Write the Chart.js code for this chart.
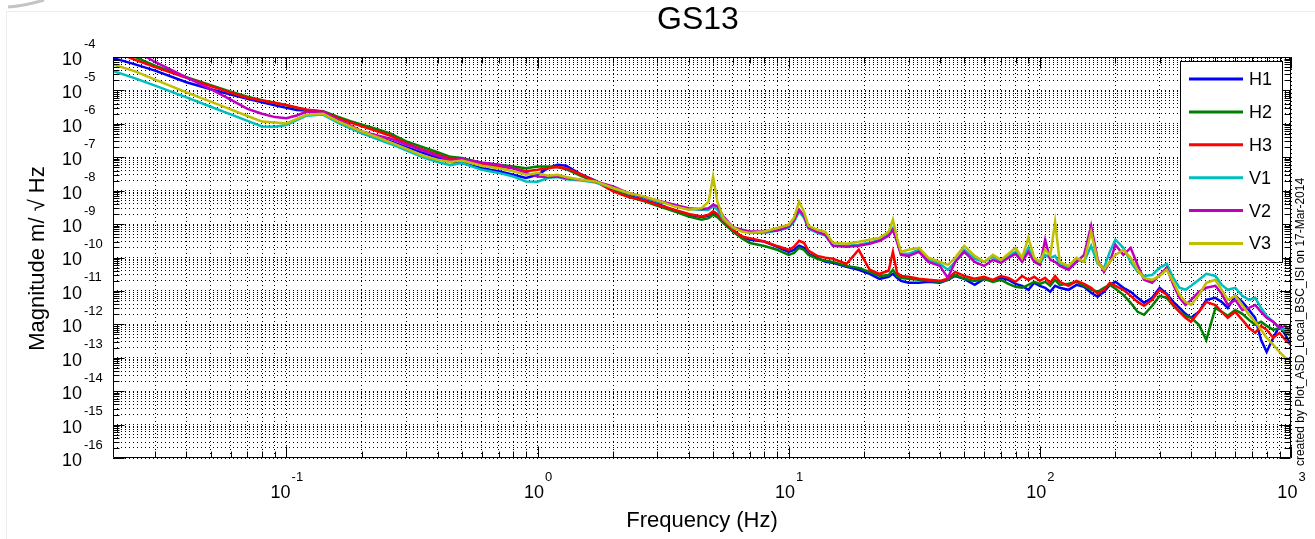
<!DOCTYPE html>
<html>
<head>
<meta charset="utf-8">
<script src="https://cdn.jsdelivr.net/npm/chart.js@4.4.1/dist/chart.umd.min.js"></script>
<style>
html,body{margin:0;padding:0;background:#fff;}
#wrap{width:1315px;height:539px;position:relative;}
</style>
</head>
<body>
<div id="wrap"><canvas id="c" width="1315" height="539"></canvas></div>
<script>
// ---------- text ----------
const chartTitle = 'GS13';
const xAxisTitle = 'Frequency (Hz)';
const yAxisTitle = 'Magnitude m/ \u221A Hz';
const footnote = 'created by Plot_ASD_Local_BSC_ISI on 17-Mar-2014';

// ---------- series ----------
const seriesNames = ['H1', 'H2', 'H3', 'V1', 'V2', 'V3'];
const seriesColors = ['#0000ff', '#008000', '#ff0000', '#00bfbf', '#bf00bf', '#bfbf00'];

// ---------- axes ----------
const xMin = 0.0204, xMax = 1000;
const yMin = 1e-16, yMax = 1e-4;
const xLabelExponents = [-1, 0, 1, 2, 3];
const yLabelExponents = [-4, -5, -6, -7, -8, -9, -10, -11, -12, -13, -14, -15, -16];
const tickMantissas = [1, 2, 3, 4, 5, 6, 7, 8, 9];
const xDecades = [-2, -1, 0, 1, 2, 3];
const yDecades = [-16, -15, -14, -13, -12, -11, -10, -9, -8, -7, -6, -5, -4];

// ---------- data (Hz, m/sqrt(Hz)) ----------
const frequency = [
  0.0204, 0.025, 0.03, 0.04, 0.05, 0.06, 0.07, 0.08, 0.09, 0.1, 0.11, 0.12, 0.14, 0.16, 0.18, 0.2, 0.23, 0.26, 0.3, 0.35, 0.4, 0.45,
  0.5, 0.6, 0.7, 0.8, 0.9, 1.0, 1.1, 1.2, 1.3, 1.5, 1.7, 2.0, 2.3, 2.6, 3.0, 3.5, 4.0, 4.5, 4.8, 5.0, 5.2, 5.5, 6.0, 6.5, 7.0, 8.0, 9.0,
  10, 10.5, 11, 11.5, 12, 13, 14, 15, 17, 19, 21, 23, 25, 26, 27, 28,
  30, 33, 36, 40, 43, 46, 50, 55, 60, 65, 70, 75, 80, 85, 90, 95, 100, 105, 110, 115, 120, 130, 140, 150, 160, 170, 180, 190, 200,
  215, 230, 245, 260, 280, 300, 320, 340, 360, 380, 400, 430, 460, 500, 530, 560, 600, 640, 680, 720, 760, 800, 850, 900, 950, 1000
];

const H1 = [
  9.3e-5, 6.0e-5, 3.9e-5, 1.75e-5, 1.08e-5, 7.5e-6, 5.6e-6, 4.4e-6, 3.6e-6, 3.0e-6, 2.6e-6, 2.5e-6, 2.3e-6, 1.36e-6, 8.4e-7, 5.2e-7, 4.0e-7, 2.95e-7, 2.0e-7, 1.35e-7, 9.7e-8, 7.2e-8,
  6.7e-8, 4.7e-8, 3.8e-8, 3.0e-8, 2.4e-8, 3.0e-8, 4.7e-8, 6.0e-8, 5.6e-8, 3.0e-8, 2.0e-8, 1.06e-8, 7.0e-9, 5.6e-9, 4.1e-9, 2.55e-9, 1.9e-9, 1.62e-9, 1.77e-9, 2.0e-9, 1.9e-9, 1.12e-9, 6.0e-10, 4.25e-10, 3.4e-10, 3.0e-10, 2.1e-10,
  1.48e-10, 1.7e-10, 2.24e-10, 1.95e-10, 1.29e-10, 9.8e-11, 7.4e-11, 6.9e-11, 5.25e-11, 4.3e-11, 3.25e-11, 2.3e-11, 2.65e-11, 3.25e-11, 2.45e-11, 2.0e-11,
  1.75e-11, 1.75e-11, 1.87e-11, 1.75e-11, 2.15e-11, 2.8e-11, 2.3e-11, 1.52e-11, 2.3e-11, 2.0e-11, 2.45e-11, 2.15e-11, 1.63e-11, 1.42e-11, 1.08e-11, 1.75e-11, 1.42e-11, 1.24e-11, 9.4e-12, 1.42e-11,
  1.24e-11, 1.08e-11, 1.52e-11, 1.33e-11, 8.8e-12, 6.65e-12, 9.4e-12, 1.52e-11, 1.87e-11, 1.24e-11, 9.4e-12, 6.2e-12, 4.4e-12, 6.2e-12, 1.24e-11, 8.2e-12, 4.7e-12, 3.1e-12, 2.06e-12, 1.57e-12,
  2.37e-12, 5.4e-12, 6.2e-12, 4.7e-12, 3.1e-12, 7.1e-12, 4.7e-12, 2.7e-12, 1.57e-12, 3.4e-13, 1.5e-13, 3.95e-13, 9.0e-13, 4.85e-13, 2.43e-13
];
const H2 = [
  1.77e-4, 9.9e-5, 5.5e-5, 2.5e-5, 1.43e-5, 9.2e-6, 6.5e-6, 5.1e-6, 4.3e-6, 3.6e-6, 3.0e-6, 2.6e-6, 2.4e-6, 1.63e-6, 1.2e-6, 9.4e-7, 6.9e-7, 5.1e-7, 3.0e-7, 2.0e-7, 1.41e-7, 1.03e-7,
  9.5e-8, 6.7e-8, 6.0e-8, 5.3e-8, 4.7e-8, 5.3e-8, 5.3e-8, 5.1e-8, 4.4e-8, 2.66e-8, 1.89e-8, 1.06e-8, 6.7e-9, 5.1e-9, 3.5e-9, 2.4e-9, 1.69e-9, 1.35e-9, 1.51e-9, 1.9e-9, 1.62e-9, 1.07e-9, 6.0e-10, 3.8e-10, 2.7e-10, 2.2e-10, 1.7e-10,
  1.2e-10, 1.38e-10, 1.95e-10, 1.7e-10, 1.2e-10, 9.15e-11, 7.95e-11, 7.4e-11, 5.6e-11, 4.9e-11, 3.7e-11, 2.8e-11, 3.0e-11, 4.3e-11, 2.8e-11, 2.45e-11,
  2.3e-11, 2.15e-11, 2.0e-11, 1.87e-11, 2.15e-11, 3.0e-11, 2.3e-11, 2.0e-11, 2.3e-11, 1.87e-11, 2.15e-11, 1.63e-11, 1.33e-11, 1.24e-11, 1.52e-11, 1.87e-11, 1.63e-11, 1.87e-11, 1.42e-11, 2.15e-11,
  1.52e-11, 1.63e-11, 1.87e-11, 1.42e-11, 1.08e-11, 9.4e-12, 1.24e-11, 1.52e-11, 1.16e-11, 7.65e-12, 4.4e-12, 2.37e-12, 1.93e-12, 3.6e-12, 7.1e-12, 6.2e-12, 3.6e-12, 2.37e-12, 1.8e-12, 1.57e-12,
  9.65e-13, 3.4e-13, 3.1e-12, 2.37e-12, 1.8e-12, 2.7e-12, 2.06e-12, 1.36e-12, 9.65e-13, 1.19e-12, 9.0e-13, 6.85e-13, 7.85e-13, 5.95e-13, 4.5e-13
];
const H3 = [
  1.49e-4, 8.2e-5, 5.0e-5, 2.37e-5, 1.35e-5, 8.5e-6, 6.0e-6, 5.0e-6, 4.2e-6, 3.66e-6, 3.1e-6, 2.7e-6, 2.3e-6, 1.48e-6, 1.09e-6, 8.4e-7, 6.0e-7, 4.4e-7, 2.6e-7, 1.7e-7, 1.2e-7, 9.0e-8,
  8.4e-8, 6.4e-8, 5.3e-8, 4.7e-8, 3.8e-8, 4.2e-8, 4.7e-8, 5.1e-8, 4.7e-8, 3.0e-8, 1.89e-8, 9.5e-9, 6.4e-9, 5.3e-9, 3.8e-9, 2.7e-9, 2.0e-9, 1.69e-9, 1.9e-9, 2.4e-9, 2.0e-9, 1.2e-9, 6.8e-10, 4.25e-10, 3.8e-10, 3.0e-10, 2.2e-10,
  1.7e-10, 2.09e-10, 3.16e-10, 2.75e-10, 1.59e-10, 1.12e-10, 9.8e-11, 9.15e-11, 6.45e-11, 1.7e-10, 4.3e-11, 3.25e-11, 4.0e-11, 1.48e-10, 3.5e-11, 2.8e-11,
  2.65e-11, 2.3e-11, 2.15e-11, 2.0e-11, 2.3e-11, 3.7e-11, 2.8e-11, 2.3e-11, 2.65e-11, 2.15e-11, 2.8e-11, 2.45e-11, 1.87e-11, 2.8e-11, 2.15e-11, 2.65e-11, 2.0e-11, 2.45e-11, 1.75e-11, 2.8e-11,
  1.87e-11, 1.42e-11, 2.0e-11, 1.63e-11, 1.24e-11, 8.2e-12, 1.08e-11, 1.75e-11, 1.42e-11, 1.08e-11, 7.1e-12, 4.7e-12, 3.6e-12, 5.4e-12, 1.08e-11, 7.65e-12, 3.8e-12, 2.37e-12, 1.57e-12, 1.19e-12,
  2.37e-12, 4.7e-12, 3.8e-12, 2.37e-12, 1.57e-12, 2.37e-12, 1.36e-12, 7.85e-13, 5.55e-13, 9.0e-13, 6.85e-13, 3.95e-13, 5.55e-13, 3.4e-13, 2.43e-13
];
const V1 = [
  3.8e-5, 2.3e-5, 1.39e-5, 6.2e-6, 3.25e-6, 1.91e-6, 1.22e-6, 8.3e-7, 8.2e-7, 9.2e-7, 1.29e-6, 1.74e-6, 1.89e-6, 1.09e-6, 7.3e-7, 5.2e-7, 3.5e-7, 2.5e-7, 1.61e-7, 9.9e-8, 7.2e-8, 5.8e-8,
  6.7e-8, 4.2e-8, 3.4e-8, 2.66e-8, 1.89e-8, 1.85e-8, 2.4e-8, 2.55e-8, 2.2e-8, 2.0e-8, 1.76e-8, 1.2e-8, 8.5e-9, 6.4e-9, 4.7e-9, 3.8e-9, 2.8e-9, 2.7e-9, 2.7e-9, 3.4e-9, 2.7e-9, 1.35e-9, 7.6e-10, 6.8e-10, 5.6e-10, 5.4e-10, 6.4e-10,
  7.75e-10, 1.17e-9, 2.33e-9, 1.54e-9, 7.2e-10, 5.5e-10, 4.5e-10, 2.24e-10, 2.24e-10, 2.4e-10, 2.75e-10, 3.4e-10, 5.1e-10, 7.75e-10, 3.16e-10, 1.29e-10,
  1.29e-10, 1.7e-10, 8.5e-11, 6.45e-11, 4.3e-11, 7.4e-11, 1.7e-10, 9.15e-11, 7.4e-11, 1.05e-10, 7.4e-11, 1.12e-10, 1.48e-10, 8.5e-11, 1.95e-10, 8.5e-11, 6.45e-11, 1.2e-10, 9.8e-11, 1.12e-10,
  6.45e-11, 4.9e-11, 8.5e-11, 7.4e-11, 2.24e-10, 6.45e-11, 4.9e-11, 1.48e-10, 3.4e-10, 1.95e-10, 7.4e-11, 3.7e-11, 2.8e-11, 3.0e-11, 4.9e-11, 6.45e-11, 2.45e-11, 1.24e-11, 1.08e-11, 1.42e-11,
  2.15e-11, 3.25e-11, 2.8e-11, 1.52e-11, 1.08e-11, 1.24e-11, 7.1e-12, 5.4e-12, 6.2e-12, 3.1e-12, 1.8e-12, 1.19e-12, 7.85e-13, 6.85e-13, 5.2e-13
];
const V2 = [
  3.8e-4, 1.55e-4, 7.1e-5, 2.45e-5, 1.09e-5, 5.3e-6, 2.8e-6, 2.0e-6, 1.59e-6, 1.47e-6, 1.78e-6, 2.3e-6, 2.3e-6, 1.36e-6, 8.8e-7, 5.9e-7, 4.5e-7, 3.6e-7, 2.4e-7, 1.59e-7, 1.11e-7, 8.1e-8,
  8.8e-8, 7.0e-8, 6.0e-8, 4.7e-8, 3.4e-8, 2.66e-8, 2.55e-8, 2.66e-8, 2.4e-8, 2.1e-8, 1.89e-8, 1.34e-8, 8.5e-9, 6.7e-9, 5.1e-9, 3.8e-9, 3.0e-9, 2.8e-9, 3.0e-9, 3.8e-9, 3.4e-9, 1.69e-9, 8.1e-10, 6.8e-10, 6.0e-10, 6.0e-10, 6.4e-10,
  8.3e-10, 1.35e-9, 2.7e-9, 1.77e-9, 7.75e-10, 5.9e-10, 4.8e-10, 2.24e-10, 2.09e-10, 2.24e-10, 2.57e-10, 3.16e-10, 4.5e-10, 6.75e-10, 2.95e-10, 1.2e-10,
  1.12e-10, 1.48e-10, 7.4e-11, 5.6e-11, 2.45e-11, 7.4e-11, 1.48e-10, 7.4e-11, 5.6e-11, 8.5e-11, 6.9e-11, 9.8e-11, 1.29e-10, 7.4e-11, 1.48e-10, 7.4e-11, 6.0e-11, 3.4e-10, 8.5e-11, 7.4e-11,
  5.6e-11, 4.3e-11, 7.4e-11, 1.2e-10, 8.9e-10, 8.5e-11, 3.7e-11, 7.4e-11, 2.4e-10, 1.2e-10, 1.95e-10, 6.0e-11, 2.15e-11, 1.75e-11, 3.0e-11, 4.9e-11, 1.52e-11, 6.2e-12, 3.8e-12, 5.4e-12,
  9.4e-12, 1.24e-11, 1.42e-11, 8.2e-12, 3.8e-12, 5.4e-12, 2.7e-12, 3.1e-12, 3.8e-12, 2.37e-12, 1.57e-12, 1.19e-12, 7.85e-13, 9.0e-13, 5.95e-13
];
const V3 = [
  6.0e-5, 3.7e-5, 2.1e-5, 8.7e-6, 4.6e-6, 2.7e-6, 1.72e-6, 1.17e-6, 1.09e-6, 1.03e-6, 1.41e-6, 1.87e-6, 2.0e-6, 1.21e-6, 8.2e-7, 5.9e-7, 4.0e-7, 2.8e-7, 1.82e-7, 1.11e-7, 8.4e-8, 7.2e-8,
  8.0e-8, 5.6e-8, 4.7e-8, 3.8e-8, 3.0e-8, 3.4e-8, 2.8e-8, 3.0e-8, 2.55e-8, 2.1e-8, 1.89e-8, 1.2e-8, 8.5e-9, 7.0e-9, 5.1e-9, 3.4e-9, 2.7e-9, 3.0e-9, 4.7e-9, 2.66e-8, 4.7e-9, 1.51e-9, 8.1e-10, 6.0e-10, 5.4e-10, 6.0e-10, 7.6e-10,
  9.5e-10, 1.54e-9, 4.65e-9, 2.33e-9, 8.9e-10, 6.75e-10, 5.9e-10, 2.75e-10, 2.57e-10, 2.95e-10, 3.4e-10, 3.9e-10, 5.9e-10, 1.35e-9, 3.9e-10, 1.48e-10,
  1.7e-10, 1.95e-10, 9.8e-11, 7.4e-11, 6.0e-11, 9.8e-11, 2.24e-10, 1.12e-10, 7.4e-11, 1.2e-10, 8.5e-11, 1.29e-10, 1.95e-10, 9.8e-11, 3.9e-10, 9.8e-11, 7.4e-11, 1.7e-10, 1.12e-10, 1.17e-9,
  7.4e-11, 5.6e-11, 9.8e-11, 7.4e-11, 5.9e-10, 7.4e-11, 4.3e-11, 7.4e-11, 1.2e-10, 1.7e-10, 9.8e-11, 4.3e-11, 2.45e-11, 2.15e-11, 2.8e-11, 4.3e-11, 1.87e-11, 7.65e-12, 4.7e-12, 3.8e-12,
  7.65e-12, 1.75e-11, 2.15e-11, 1.08e-11, 5.4e-12, 7.1e-12, 3.8e-12, 1.93e-12, 1.19e-12, 6.85e-13, 3.95e-13, 2.43e-13, 1.5e-13, 9.9e-14, 8.6e-14
];
const seriesValues = [H1, H2, H3, V1, V2, V3];

// ---------- build ----------
function logTicks(decades, lo, hi) {
  const out = [];
  decades.forEach(e => tickMantissas.forEach(m => {
    const v = m * Math.pow(10, e);
    if (v >= lo * 0.999 && v <= hi * 1.001) out.push({ value: v, major: m === 1 });
  }));
  return out;
}
const xTickList = logTicks(xDecades, xMin, xMax);
const yTickList = logTicks(yDecades, yMin, yMax);

const datasets = seriesNames.map((name, i) => {
  const vals = seriesValues[i];
  const n = Math.min(vals.length, frequency.length);
  const pts = [];
  for (let k = 0; k < n; k++) pts.push({ x: frequency[k], y: vals[k] });
  return {
    label: name,
    data: pts,
    borderColor: seriesColors[i],
    backgroundColor: seriesColors[i],
    borderWidth: 2.5,
    pointRadius: 0,
    tension: 0,
    fill: false,
    order: seriesNames.length - i
  };
});

const FONT = '"Liberation Sans", Arial, Helvetica, sans-serif';

const decor = {
  id: 'decor',
  beforeDraw(chart) {
    const ctx = chart.ctx;
    ctx.save();
    ctx.fillStyle = '#fff';
    ctx.fillRect(0, 0, chart.width, chart.height);
    ctx.strokeStyle = '#ececec';
    ctx.lineWidth = 1;
    ctx.beginPath();
    ctx.moveTo(6.5, chart.height);
    ctx.lineTo(6.5, 11.5);
    ctx.lineTo(chart.width, 11.5);
    ctx.stroke();
    ctx.strokeStyle = '#c4c4c4';
    ctx.lineWidth = 3;
    ctx.beginPath();
    ctx.moveTo(8, 7);
    ctx.quadraticCurveTo(24, 6, 44, 0);
    ctx.stroke();
    ctx.restore();
  },
  afterDatasetsDraw(chart) {
    const { ctx, chartArea: a, scales } = chart;
    const xs = scales.x, ys = scales.y;
    const L = Math.round(a.left) + 0.5, R = Math.round(a.right) - 0.5;
    const T = Math.round(a.top) + 0.5, B = Math.round(a.bottom) - 0.5;
    ctx.save();
    ctx.strokeStyle = '#000';
    ctx.lineWidth = 1;
    ctx.beginPath();
    xs.ticks.forEach(t => {
      const px = Math.round(xs.getPixelForValue(t.value)) + 0.5;
      const len = t.major ? 11 : 6;
      ctx.moveTo(px, B); ctx.lineTo(px, B - len);
      ctx.moveTo(px, T); ctx.lineTo(px, T + len);
    });
    ys.ticks.forEach(t => {
      const py = Math.round(ys.getPixelForValue(t.value)) + 0.5;
      const len = t.major ? 11 : 6;
      ctx.moveTo(L, py); ctx.lineTo(L + len, py);
      ctx.moveTo(R, py); ctx.lineTo(R - len, py);
    });
    ctx.stroke();
    ctx.beginPath();
    ctx.rect(L, T, R - L, B - T);
    ctx.stroke();

    ctx.fillStyle = '#000';
    yLabelExponents.forEach(e => {
      const py = ys.getPixelForValue(Math.pow(10, e));
      ctx.font = '18px ' + FONT;
      ctx.textAlign = 'right';
      ctx.textBaseline = 'middle';
      ctx.fillText('10', 82, py + 3);
      ctx.font = '13px ' + FONT;
      ctx.textAlign = 'left';
      ctx.fillText(String(e), 84, py - 13);
    });
    xLabelExponents.forEach(e => {
      const px = xs.getPixelForValue(Math.pow(10, e));
      ctx.font = '18px ' + FONT;
      const w10 = ctx.measureText('10').width;
      ctx.font = '13px ' + FONT;
      const we = ctx.measureText(String(e)).width;
      const start = px - (w10 + we) / 2;
      ctx.textAlign = 'left';
      ctx.textBaseline = 'middle';
      ctx.font = '18px ' + FONT;
      ctx.fillText('10', start, 493);
      ctx.font = '13px ' + FONT;
      ctx.fillText(String(e), start + w10 + 1, 477);
    });
    ctx.font = '22px ' + FONT;
    ctx.textAlign = 'center';
    ctx.textBaseline = 'middle';
    ctx.fillText(xAxisTitle, (a.left + a.right) / 2, 521);
    ctx.save();
    ctx.translate(38, (a.top + a.bottom) / 2 + 1);
    ctx.rotate(-Math.PI / 2);
    ctx.fillText(yAxisTitle, 0, 0);
    ctx.restore();
    ctx.font = '32px ' + FONT;
    ctx.fillText(chartTitle, 698, 20);
    ctx.save();
    ctx.translate(1301, 322);
    ctx.rotate(-Math.PI / 2);
    ctx.font = '12px ' + FONT;
    ctx.fillText(footnote, 0, 0);
    ctx.restore();

    const bx = 1180.5, by = 61.5, bw = 102, bh = 201;
    ctx.fillStyle = '#fff';
    ctx.fillRect(bx, by, bw, bh);
    ctx.strokeStyle = '#000';
    ctx.lineWidth = 1;
    ctx.strokeRect(bx, by, bw, bh);
    chart.data.datasets.forEach((ds, i) => {
      const yy = 79 + i * 32.9;
      ctx.strokeStyle = ds.borderColor;
      ctx.lineWidth = 3;
      ctx.beginPath();
      ctx.moveTo(1189, yy);
      ctx.lineTo(1243, yy);
      ctx.stroke();
      ctx.fillStyle = '#000';
      ctx.font = '18px ' + FONT;
      ctx.textAlign = 'left';
      ctx.textBaseline = 'middle';
      ctx.fillText(ds.label, 1249, yy + 1);
    });
    ctx.restore();
  }
};

const gridCfg = { display: true, color: '#000', lineWidth: 1, drawTicks: false, drawOnChartArea: true };

new Chart(document.getElementById('c'), {
  type: 'line',
  data: { datasets },
  options: {
    responsive: false,
    maintainAspectRatio: false,
    animation: false,
    devicePixelRatio: 1,
    layout: { padding: { left: 113, top: 57, right: 24, bottom: 81 } },
    plugins: { legend: { display: false }, title: { display: false }, tooltip: { enabled: false } },
    scales: {
      x: {
        type: 'logarithmic',
        bounds: 'data',
        min: xMin, max: xMax,
        afterBuildTicks: s => { s.ticks = xTickList.map(t => ({ value: t.value, major: t.major })); },
        ticks: { display: false },
        grid: gridCfg,
        border: { display: false, dash: [1, 3] },
        title: { display: false }
      },
      y: {
        type: 'logarithmic',
        bounds: 'data',
        min: yMin, max: yMax,
        afterBuildTicks: s => { s.ticks = yTickList.map(t => ({ value: t.value, major: t.major })); },
        ticks: { display: false },
        grid: gridCfg,
        border: { display: false, dash: [1, 3] },
        title: { display: false }
      }
    }
  },
  plugins: [decor]
});
</script>
</body>
</html>
